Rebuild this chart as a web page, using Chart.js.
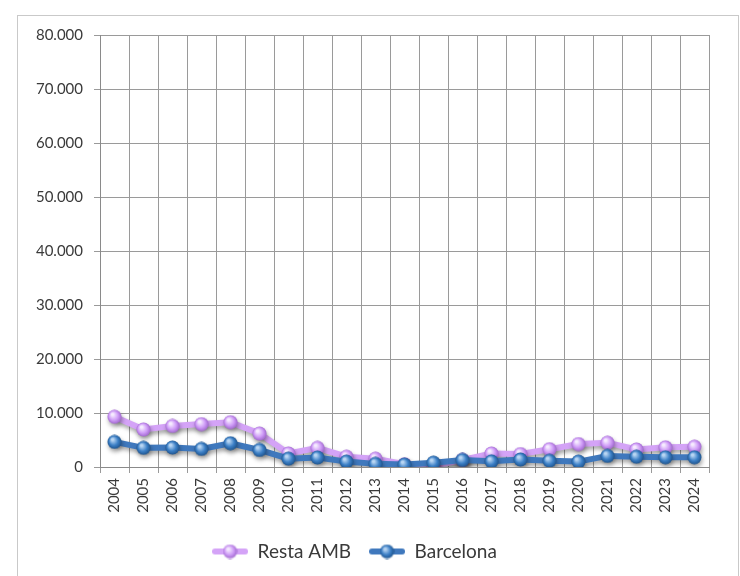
<!DOCTYPE html>
<html lang="ca">
<head>
  <meta charset="UTF-8">
  <title>Resta AMB / Barcelona</title>
  <script src="https://cdn.jsdelivr.net/npm/chart.js"></script>
  <style>
    body { margin: 0; background: #fff; }
    #wrap { width: 740px; height: 576px; }
  </style>
</head>
<body>
  <div id="wrap"><canvas id="myChart" width="740" height="576"></canvas></div>
  <script>
    const years = ['2004', '2005', '2006', '2007', '2008', '2009', '2010', '2011', '2012', '2013', '2014',
                   '2015', '2016', '2017', '2018', '2019', '2020', '2021', '2022', '2023', '2024'];
    const restaAMB = [9300, 6950, 7600, 7950, 8300, 6200, 2500, 3550, 1900, 1550, 500,
                      200, 1300, 2500, 2400, 3300, 4250, 4500, 3250, 3650, 3750];
    const barcelona = [4650, 3550, 3600, 3350, 4400, 3150, 1550, 1750, 1000, 580, 450,
                       800, 1300, 1050, 1400, 1150, 1000, 2050, 1900, 1800, 1800];
    const yTicks = [0, 10000, 20000, 30000, 40000, 50000, 60000, 70000, 80000];

    // little shaded ball used as marker
    function makeBall(light, mid, dark) {
      const c = document.createElement('canvas');
      c.width = 15; c.height = 15;
      const g = c.getContext('2d');
      const grad = g.createRadialGradient(5.5, 5, 1, 7.5, 7.5, 7.5);
      grad.addColorStop(0, light);
      grad.addColorStop(0.55, mid);
      grad.addColorStop(1, dark);
      g.fillStyle = grad;
      g.beginPath();
      g.arc(7.5, 7.5, 7, 0, Math.PI * 2);
      g.fill();
      return c;
    }
    function makeLegendIcon(lineColor, ball) {
      const c = document.createElement('canvas');
      c.width = 36; c.height = 16;
      const g = c.getContext('2d');
      g.strokeStyle = lineColor;
      g.lineWidth = 6;
      g.lineCap = 'round';
      g.beginPath();
      g.moveTo(3, 8); g.lineTo(33, 8);
      g.stroke();
      g.drawImage(ball, 10.5, 0.5);
      return c;
    }

    const purpleBall = makeBall('#f6ecff', '#cf9cf7', '#9b62c9');
    const blueBall = makeBall('#b9d6f3', '#3b7fc6', '#1c4f86');
    const purpleIcon = makeLegendIcon('#d4a3f7', purpleBall);
    const blueIcon = makeLegendIcon('#3f78bd', blueBall);

    const frame = {
      id: 'frame',
      beforeDraw(chart) {
        const ctx = chart.ctx;
        ctx.save();
        ctx.fillStyle = '#fff';
        ctx.fillRect(0, 0, chart.width, chart.height);
        ctx.strokeStyle = '#c9c9c9';
        ctx.lineWidth = 1;
        ctx.strokeRect(17.5, 15.5, 721, 620);
        ctx.restore();
      }
    };
    const shadow = {
      id: 'shadow',
      beforeDatasetDraw(chart) {
        const ctx = chart.ctx;
        ctx.save();
        ctx.shadowColor = 'rgba(0,0,0,0.35)';
        ctx.shadowBlur = 4;
        ctx.shadowOffsetX = 1;
        ctx.shadowOffsetY = 3;
      },
      afterDatasetDraw(chart) {
        chart.ctx.restore();
      }
    };

    Chart.defaults.font.family = 'Lato, "Open Sans", sans-serif';
    Chart.defaults.color = '#3a3a3a';

    const ctx = document.getElementById('myChart').getContext('2d');
    const myChart = new Chart(ctx, {
      type: 'line',
      data: {
        labels: years,
        datasets: [{
          label: 'Resta AMB',
          data: restaAMB,
          borderColor: '#d4a3f7',
          backgroundColor: '#d4a3f7',
          borderWidth: 6,
          pointStyle: purpleBall,
          order: 1,
          legendIcon: purpleIcon
        }, {
          label: 'Barcelona',
          data: barcelona,
          borderColor: '#3f78bd',
          backgroundColor: '#3f78bd',
          borderWidth: 6,
          pointStyle: blueBall,
          order: 0,
          legendIcon: blueIcon
        }]
      },
      options: {
        responsive: false,
        animation: false,
        events: [],
        layout: { padding: { left: 0, right: 31, top: 35, bottom: 5 } },
        plugins: {
          tooltip: { enabled: false },
          legend: {
            position: 'bottom',
            labels: {
              usePointStyle: true,
              pointStyleWidth: 36,
              padding: 18,
              font: { size: 19 },
              color: '#3a3a3a',
              generateLabels(chart) {
                return chart.data.datasets.map((ds, i) => ({
                  text: ds.label,
                  pointStyle: ds.legendIcon,
                  fillStyle: ds.borderColor,
                  strokeStyle: ds.borderColor,
                  lineWidth: 0,
                  fontColor: '#3a3a3a',
                  hidden: false,
                  datasetIndex: i
                }));
              }
            }
          }
        },
        scales: {
          x: {
            offset: true,
            grid: { offset: true, color: '#9a9a9a', tickLength: 6 },
            border: { color: '#8a8a8a' },
            ticks: { minRotation: 90, maxRotation: 90, padding: 5, font: { size: 15 } },
            afterFit(scale) { scale.height = 57; }
          },
          y: {
            min: 0,
            max: 80000,
            afterBuildTicks(scale) { scale.ticks = yTicks.map(v => ({ value: v })); },
            grid: { color: '#9a9a9a', tickLength: 6 },
            border: { color: '#8a8a8a' },
            ticks: {
              padding: 11,
              font: { size: 15 },
              callback: v => v.toLocaleString('de-DE')
            },
            afterFit(scale) { scale.width = 100; }
          }
        }
      },
      plugins: [frame, shadow]
    });
  </script>
</body>
</html>
